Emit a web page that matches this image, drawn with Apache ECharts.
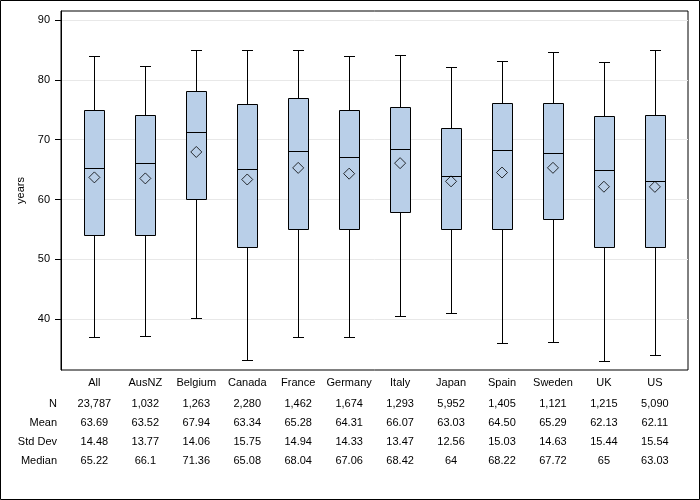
<!DOCTYPE html>
<html>
<head>
<meta charset="utf-8">
<script src="https://cdn.jsdelivr.net/npm/echarts@6/dist/echarts.min.js"></script>
<style>html,body{margin:0;padding:0;background:#fff;}#chart{width:700px;height:500px;}</style>
</head>
<body>
<div id="chart"></div>
<script>
const categories = ['All','AusNZ','Belgium','Canada','France','Germany','Italy','Japan','Spain','Sweden','UK','US'];
const whiskerLow  = [37, 37.2, 40.2, 33.1, 37, 37, 40.5, 41, 36, 36.2, 33, 34];
const q1          = [54, 54, 60, 52, 55, 55, 57.9, 55, 55, 56.7, 52, 52];
const medians     = [65.22, 66.1, 71.36, 65.08, 68.04, 67.06, 68.42, 64, 68.22, 67.72, 65, 63.03];
const q3          = [75, 74.1, 78.1, 76, 77, 75, 75.5, 72, 76.1, 76.1, 74, 74.1];
const whiskerHigh = [84, 82.3, 85, 85, 85, 84, 84.2, 82.1, 83.1, 84.65, 83, 85];
const means       = [63.69, 63.52, 67.94, 63.34, 65.28, 64.31, 66.07, 63.03, 64.50, 65.29, 62.13, 62.11];

const rowNames     = ['N', 'Mean', 'Std Dev', 'Median'];
const nLabels      = ['23,787','1,032','1,263','2,280','1,462','1,674','1,293','5,952','1,405','1,121','1,215','5,090'];
const meanLabels   = ['63.69','63.52','67.94','63.34','65.28','64.31','66.07','63.03','64.50','65.29','62.13','62.11'];
const stdLabels    = ['14.48','13.77','14.06','15.75','14.94','14.33','13.47','12.56','15.03','14.63','15.44','15.54'];
const medianLabels = ['65.22','66.1','71.36','65.08','68.04','67.06','68.42','64','68.22','67.72','65','63.03'];
const yTicks = [40, 50, 60, 70, 80, 90];

const FONT = "'Liberation Sans', Arial, sans-serif";
const TXT = '#000';
const idx = categories.map((c, i) => i);
const X_MIN = -0.655, X_MAX = 11.65;

const chart = echarts.init(document.getElementById('chart'), null, {renderer: 'canvas'});

function rowAxis(labels, offset) {
  return {
    type: 'value', min: X_MIN, max: X_MAX, position: 'bottom', offset: offset, gridIndex: 0,
    axisLine: {show: false, onZero: false}, axisTick: {show: false}, splitLine: {show: false},
    axisLabel: {customValues: idx, formatter: v => labels[Math.round(v)] ?? '', margin: 7,
      fontFamily: FONT, fontSize: 11, color: TXT}
  };
}

const boxData = idx.map(i => [i, whiskerLow[i], q1[i], medians[i], q3[i], whiskerHigh[i]]);
const meanData = idx.map(i => [i, means[i]]);

function renderBox(params, api) {
  const i = api.value(0);
  const c = v => api.coord([i, v]);
  const cx = Math.round(c(0)[0]) + 0.5;
  const yy = v => Math.round(c(v)[1]) + 0.5;
  const yMin = yy(api.value(1)), yQ1 = yy(api.value(2)), yMed = yy(api.value(3)),
        yQ3 = yy(api.value(4)), yMax = yy(api.value(5));
  const hb = 10, hc = 5.5;
  const ls = {stroke: '#000', lineWidth: 1};
  return {
    type: 'group',
    children: [
      {type: 'line', shape: {x1: cx, y1: yQ3, x2: cx, y2: yMax}, style: ls},
      {type: 'line', shape: {x1: cx - hc, y1: yMax, x2: cx + hc, y2: yMax}, style: ls},
      {type: 'line', shape: {x1: cx, y1: yQ1, x2: cx, y2: yMin}, style: ls},
      {type: 'line', shape: {x1: cx - hc, y1: yMin, x2: cx + hc, y2: yMin}, style: ls},
      {type: 'rect', shape: {x: cx - hb, y: yQ3, width: 2 * hb, height: yQ1 - yQ3},
        style: {fill: '#B9CFE8', stroke: '#000', lineWidth: 1}},
      {type: 'line', shape: {x1: cx - hb, y1: yMed, x2: cx + hb, y2: yMed}, style: ls}
    ]
  };
}

const option = {
  backgroundColor: '#fff',
  animation: false,
  textStyle: {fontFamily: FONT},
  grid: {left: 61, top: 11, right: 12, bottom: 130, show: true, borderColor: '#000', borderWidth: 1, containLabel: false},
  xAxis: [
    {
      type: 'value', min: X_MIN, max: X_MAX, position: 'bottom',
      axisLine: {show: false, onZero: false}, axisTick: {show: false}, splitLine: {show: false},
      axisLabel: {customValues: idx, formatter: v => categories[Math.round(v)] ?? '', margin: 7,
        fontFamily: FONT, fontSize: 11, color: TXT}
    },
    rowAxis(nLabels, 21),
    rowAxis(meanLabels, 40),
    rowAxis(stdLabels, 59),
    rowAxis(medianLabels, 78)
  ],
  yAxis: {
    type: 'value', min: 31.5, max: 91.5, position: 'left',
    name: 'years', nameLocation: 'middle', nameGap: 35,
    nameTextStyle: {fontFamily: FONT, fontSize: 11, color: TXT},
    axisLine: {show: true, onZero: false, lineStyle: {color: '#000', width: 1}},
    axisTick: {show: true, inside: false, customValues: yTicks, length: 6, lineStyle: {color: '#000', width: 1}},
    axisLabel: {customValues: yTicks, margin: 11, fontFamily: FONT, fontSize: 11, color: TXT},
    splitLine: {show: true, lineStyle: {color: '#E8E8E8', width: 1}}
  },
  graphic: [
    {type: 'rect', shape: {x: 0.5, y: 0.5, width: 699, height: 499}, style: {fill: 'none', stroke: '#000', lineWidth: 1}, z: 100},
    ...rowNames.map((t, k) => ({
      type: 'text', x: 57, y: 404 + 19 * k,
      style: {text: t, align: 'right', verticalAlign: 'middle', fontFamily: FONT, fontSize: 11, fill: TXT}
    }))
  ],
  series: [
    {
      type: 'custom', xAxisIndex: 0, yAxisIndex: 0,
      renderItem: renderBox, data: boxData,
      encode: {x: 0, y: [1, 2, 3, 4, 5]}, z: 2
    },
    {
      type: 'scatter', xAxisIndex: 0, yAxisIndex: 0, data: meanData,
      symbol: 'diamond', symbolSize: [11, 11],
      itemStyle: {color: 'rgba(0,0,0,0)', borderColor: '#000', borderWidth: 1}, z: 3
    }
  ]
};
chart.setOption(option);
</script>
</body>
</html>
